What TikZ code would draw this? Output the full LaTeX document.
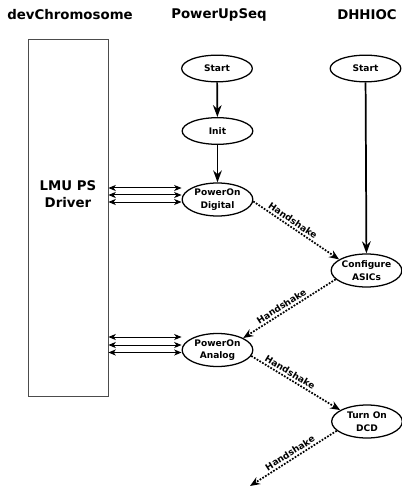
\documentclass[tikz,border=0pt]{standalone}
\usepackage{fontspec}
\setmainfont{DejaVu Sans}
\usetikzlibrary{shapes.geometric,arrows.meta,calc}
\begin{document}
\begin{tikzpicture}[x=0.75pt,y=-0.75pt,
  title/.style={font=\fontsize{10}{12.75}\selectfont\bfseries, inner sep=0pt},
  state/.style={draw, ellipse, line width=0.95pt, inner sep=0pt, minimum width=53pt,
    minimum height=24.75pt, align=center, font=\fontsize{6.8}{9.5}\selectfont\bfseries},
  startstate/.style={state, minimum height=20pt},
  flow/.style={-{Stealth[length=9pt,width=6.5pt,inset=3pt]}, line width=1.3pt},
  hs/.style={-{Stealth[length=7.5pt,width=6pt,inset=2.5pt]}, line width=1.3pt, dash pattern=on 1.3pt off 1.1pt},
  hslabel/.style={font=\fontsize{6.8}{8}\selectfont\bfseries, sloped, above, inner sep=1.5pt},
  link/.style={{Stealth[length=5.5pt,width=4.5pt,inset=1.5pt]}-{Stealth[length=5.5pt,width=4.5pt,inset=1.5pt]}, line width=0.75pt},
  box/.style={draw, line width=0.6pt, black!70, minimum width=60pt, minimum height=267.75pt, inner sep=0pt},
]
\useasboundingbox (0,0) rectangle (402,488);
\fill[white] (0,0) rectangle (402,488);

% titles
\node[title] (t1) at (70,15) {devChromosome};
\node[title] (t2) at (219,15) {PowerUpSeq};
\node[title] (t3) at (367,15) {DHHIOC};

% driver box
\node[box] (lmu) at (68,217.5) {};
\node[title, align=center] (lmutext) at (68,194) {LMU PS\\Driver};

% states
\node[startstate] (s1) at (217,68.5) {Start};
\node[startstate] (s2) at (365.5,68.5) {Start};
\node[startstate] (init) at (217.5,131) {Init};
\node[state] (pd) at (217.5,199.5) {PowerOn\\Digital};
\node[state] (ca) at (366.5,270.5) {Configure\\ASICs};
\node[state] (pa) at (217.5,350) {PowerOn\\Analog};
\node[state] (dd) at (367,421.5) {Turn On\\DCD};
\coordinate (free) at (250,486);

% solid flow
\draw[flow] (s1) -- (init);
\draw[flow] (init) -- (pd);
\draw[flow] (s2) -- (ca);

% links to driver
\foreach \dy [count=\i] in {-11.5,-4.5,2.5} {
  \path ($(pd.west)+(0,\dy)$) coordinate (pdl\i);
  \draw[link] (lmu.east |- pdl\i) -- (pdl\i);
}
\foreach \dy [count=\i] in {-13,-5,2.5} {
  \path ($(pa.west)+(0,\dy)$) coordinate (pal\i);
  \draw[link] (lmu.east |- pal\i) -- (pal\i);
}

% handshakes
\draw[hs] (pd.-3) -- node[hslabel, pos=0.42] {Handshake} (ca.158);
\draw[hs] (ca.196) -- node[hslabel, pos=0.55] {Handshake} (pa.25);
\draw[hs] (pa.-10) -- node[hslabel, pos=0.4] {Handshake} (dd.157);
\draw[hs] (dd.197) -- node[hslabel, pos=0.5] {Handshake} (free);
\end{tikzpicture}
\end{document}
